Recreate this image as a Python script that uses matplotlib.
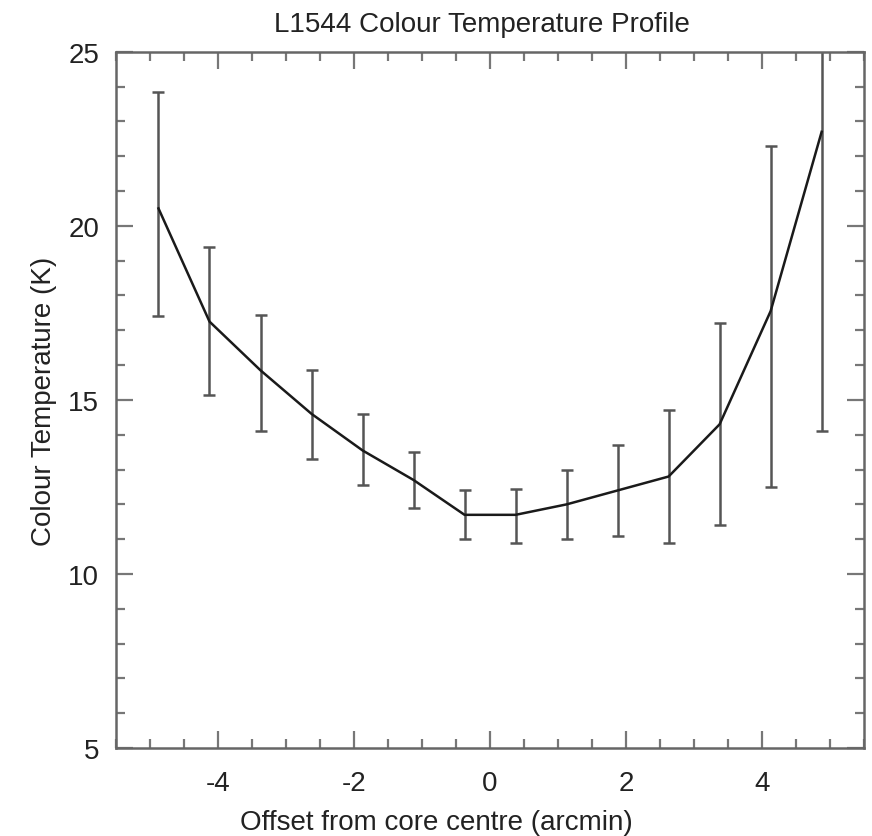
import matplotlib
matplotlib.use("Agg")
import matplotlib.pyplot as plt
from matplotlib.ticker import MultipleLocator

plt.rcParams['font.family'] = ['Liberation Sans', 'DejaVu Sans']
plt.rcParams['axes.unicode_minus'] = False

# offsets of the strip positions from the core centre (arcmin)
offset = [-4.875, -4.125, -3.375, -2.625, -1.875, -1.125, -0.375,
          0.375, 1.125, 1.875, 2.625, 3.375, 4.125, 4.875]
# colour temperature and the upper / lower ends of each error bar (K)
temp = [20.5, 17.25, 15.85, 14.6, 13.55, 12.7, 11.7,
        11.7, 12.0, 12.4, 12.8, 14.3, 17.55, 22.7]
t_upper = [23.85, 19.4, 17.45, 15.85, 14.6, 13.5, 12.4,
           12.45, 13.0, 13.7, 14.7, 17.2, 22.3, 31.3]
t_lower = [17.4, 15.15, 14.1, 13.3, 12.55, 11.9, 11.0,
           10.9, 11.0, 11.1, 10.9, 11.4, 12.5, 14.1]

err_lo = [t - lo for t, lo in zip(temp, t_lower)]
err_hi = [hi - t for t, hi in zip(temp, t_upper)]

fig = plt.figure(figsize=(8.72, 8.37), dpi=100)
ax = fig.add_axes([0.133, 0.105, 0.858, 0.832])

ax.errorbar(offset, temp, yerr=[err_lo, err_hi], fmt='none',
            ecolor='#555555', elinewidth=1.8, capsize=4.5, capthick=1.8)
ax.plot(offset, temp, color='#1a1a1a', lw=1.8)

ax.set_xlim(-5.5, 5.5)
ax.set_ylim(5, 25)
ax.xaxis.set_major_locator(MultipleLocator(2))
ax.xaxis.set_minor_locator(MultipleLocator(0.5))
ax.yaxis.set_major_locator(MultipleLocator(5))
ax.yaxis.set_minor_locator(MultipleLocator(1))

for s in ax.spines.values():
    s.set_color('#666666')
    s.set_linewidth(1.8)
ax.tick_params(which='both', direction='in', top=True, right=True,
               color='#777777', width=1.6, labelsize=20, labelcolor='#222222')
ax.tick_params(which='major', length=12)
ax.tick_params(axis='x', which='major', pad=16)
ax.tick_params(axis='y', which='major', pad=12)
ax.tick_params(which='minor', length=6.5)

ax.set_xlabel("Offset from core centre (arcmin)", fontsize=20,
              color='#222222', labelpad=9, x=0.428)
ax.set_ylabel("Colour Temperature (K)", fontsize=20,
              color='#222222', labelpad=8)
ax.set_title("L1544 Colour Temperature Profile", fontsize=20,
             color='#222222', pad=15, x=0.489)

fig.savefig("out.png", dpi=100)
